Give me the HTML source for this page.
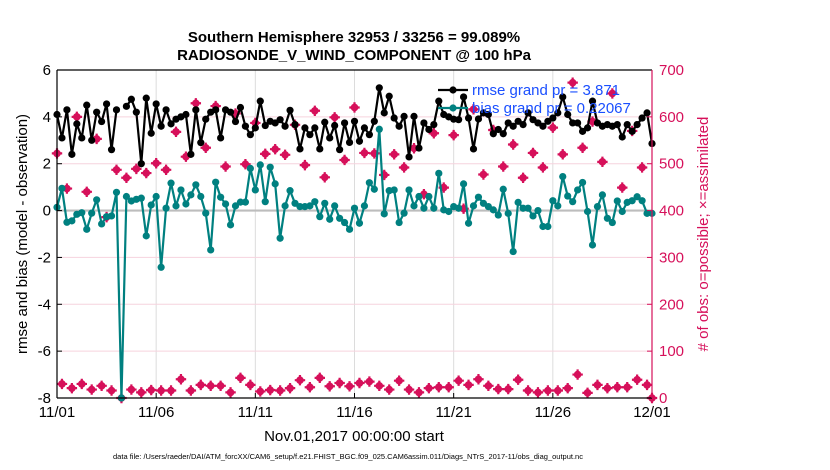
<!DOCTYPE html>
<html><head><meta charset="utf-8"><style>
body{margin:0;background:#fff;}
svg{display:block;font-family:"Liberation Sans",sans-serif;}
</style></head><body>
<svg id="chart" width="830" height="470" viewBox="0 0 830 470" xmlns="http://www.w3.org/2000/svg">
<rect width="830" height="470" fill="#fff"/>
<g id="grid"></g>
<g id="marks"></g>
<g id="axes"></g>
<text x="354" y="42" text-anchor="middle" font-size="15" font-weight="bold">Southern Hemisphere 32953 / 33256 = 99.089%</text>
<text x="354" y="60" text-anchor="middle" font-size="15" font-weight="bold">RADIOSONDE_V_WIND_COMPONENT @ 100 hPa</text>
<text transform="translate(27,234) rotate(-90)" text-anchor="middle" font-size="15">rmse and bias (model - observation)</text>
<text transform="translate(708,234) rotate(-90)" text-anchor="middle" font-size="15" fill="#d6105a"># of obs: o=possible; ×=assimilated</text>
<text x="354" y="441" text-anchor="middle" font-size="15">Nov.01,2017 00:00:00 start</text>
<text x="348" y="459" text-anchor="middle" font-size="7.5">data file: /Users/raeder/DAI/ATM_forcXX/CAM6_setup/f.e21.FHIST_BGC.f09_025.CAM6assim.011/Diags_NTrS_2017-11/obs_diag_output.nc</text>
</svg>
<script>
const rmse=[4.1,3.1,4.3,2.4,3.7,3.1,4.5,3.0,4.2,3.8,4.55,2.6,4.3,null,4.45,4.75,4.2,2.0,4.8,3.3,4.55,3.6,4.3,3.7,3.9,4.0,4.1,2.4,4.3,2.9,3.9,4.2,4.3,3.1,4.3,4.2,3.8,4.4,3.6,
3.24,3.53,4.67,3.63,3.81,3.74,3.88,3.6,4.28,3.67,2.63,3.53,3.24,3.53,2.63,3.77,3.1,3.63,2.6,3.74,2.91,3.81,2.96,3.53,3.24,3.81,5.24,4.17,4.88,3.95,3.6,4.02,2.29,4.02,2.67,3.74,3.46,3.67,4.67,4.1,4.0,3.9,
3.88,4.85,3.95,2.63,3.91,4.17,4.1,3.28,3.46,3.28,3.74,3.6,3.81,3.67,4.17,3.88,3.74,3.6,3.81,3.95,4.17,4.85,4.1,3.74,3.74,3.38,3.53,4.67,3.74,3.6,3.67,3.6,3.67,3.14,3.67,3.38,3.67,3.95,4.17,2.86];
const bias=[0.14,0.95,-0.5,-0.44,-0.16,-0.09,-0.8,-0.11,0.46,-0.57,-0.26,-0.23,0.78,-8,0.6,0.41,0.48,0.53,-1.08,0.24,0.6,-2.42,0.1,1.17,0.2,0.88,0.28,0.67,1.1,0.6,-0.11,-1.68,1.21,0.57,0.28,-0.61,0.2,0.36,0.36,
1.8,0.88,1.95,0.38,1.85,1.14,-1.18,0.2,0.85,0.31,0.17,0.17,0.2,0.38,-0.26,0.31,-0.37,0.2,-0.33,-0.51,-0.8,0.1,-0.54,0.2,1.19,0.91,3.47,-0.14,0.85,0.88,-0.51,-0.11,0.88,0.2,0.6,0.1,0.6,0.1,1.59,0.03,-0.04,0.17,
0.1,1.14,-0.54,0.2,0.57,0.31,0.17,0.03,-0.19,0.91,-0.12,-1.75,0.35,0.1,0.1,-0.23,0,-0.68,-0.68,0.42,0.2,1.45,0.62,0.38,0.88,1.2,-0.04,-1.47,0.17,0.67,-0.33,-0.51,0.41,-0.04,0.35,0.42,0.59,0.42,-0.12,-0.12];
const obs=[522,30,447,21,600,30,440,18,553,26,386,16,487,0,470,18,489,12,480,17,501,16,487,16,568,40,515,16,629,28,534,26,623,26,494,12,607,43,499,28,587,14,521,17,531,16,519,21,583,38,497,23,613,43,471,25,599,32,508,25,620,32,523,35,522,26,476,18,520,37,492,18,533,12,435,21,565,23,449,23,561,37,404,28,616,40,477,26,572,19,494,19,541,39,470,16,523,12,492,16,577,16,520,21,673,50,534,11,590,28,504,21,650,23,449,23,570,39,492,28,0];
const xTickLabels=["11/01","11/06","11/11","11/16","11/21","11/26","12/01"];
const xTickDays=[0,5,10,15,20,25,30];
const yTicks=[6,4,2,0,-2,-4,-6,-8];
const y2Ticks=[700,600,500,400,300,200,100,0];

const L=57,R=652,T=70,B=398,MAG="#d6105a",TEAL="#008080";
const NS="http://www.w3.org/2000/svg";
const xDay=d=>L+(R-L)*d/30;
const xIdx=i=>xDay(i*0.25);
const yL=v=>T+(6-v)*(B-T)/14;
const yR=v=>B-v*(B-T)/700;
function mk(tag,attrs,parent){const e=document.createElementNS(NS,tag);for(const k in attrs)e.setAttribute(k,attrs[k]);parent.appendChild(e);return e;}
const grid=document.getElementById('grid'),marks=document.getElementById('marks'),axes=document.getElementById('axes');

xTickDays.forEach((d,k)=>{
  const x=xDay(d);
  const g=mk('line',{x1:x,x2:x,y1:T,y2:B,stroke:'#dcdcdc','stroke-width':1},grid);
  
  
  mk('line',{x1:x,x2:x,y1:B,y2:B-5,stroke:'#000'},axes);
  const t=mk('text',{x:x,y:B+19,'text-anchor':'middle','font-size':15},axes);
  t.textContent=xTickLabels[k];
  
  
});
yTicks.forEach(v=>{
  const y=yL(v);
  if(v!==0){const g=mk('line',{x1:L,x2:R,y1:y,y2:y,stroke:'#f6d3de','stroke-width':1},grid);
  
  }
  mk('line',{x1:L,x2:L+5,y1:y,y2:y,stroke:'#000'},axes);
  const t=mk('text',{x:L-6,y:y+5,'text-anchor':'end','font-size':15},axes);
  t.textContent=v;
  
  
});
y2Ticks.forEach(v=>{
  const y=yR(v);
  mk('line',{x1:R-5,x2:R,y1:y,y2:y,stroke:MAG},axes);
  const t=mk('text',{x:R+7,y:y+5,'text-anchor':'start','font-size':15,fill:MAG},axes);
  t.textContent=v;
  
  
});
const zl=mk('line',{x1:L,x2:R,y1:yL(0),y2:yL(0),stroke:'#bdbdbd','stroke-width':2.2},grid);



obs.forEach((v,i)=>{
  const x=xIdx(i),y=yR(v);
  const g=mk('g',{},marks);
  
  
  mk('circle',{cx:x,cy:y,r:3.8,fill:MAG},g);
  mk('path',{d:`M${x-5.2},${y}H${x+5.2}M${x},${y-5.2}V${y+5.2}`,stroke:MAG,'stroke-width':2.2},g);
});

function series(data,color,name){
  let d='',pen=false;
  data.forEach((v,i)=>{if(v===null){pen=false;return;}d+=(pen?'L':'M')+xIdx(i).toFixed(2)+','+yL(v).toFixed(2);pen=true;});
  const p=mk('path',{d:d,fill:'none',stroke:color,'stroke-width':2.2,'stroke-linejoin':'round'},marks);
  
  
  data.forEach((v,i)=>{if(v===null)return;
    const c=mk('circle',{cx:xIdx(i),cy:yL(v),r:3.6,fill:color},marks);
    
    
  });
}
series(rmse,'#000','rmse');
series(bias,TEAL,'bias');

mk('line',{x1:L,x2:R,y1:T,y2:T,stroke:'#000','stroke-width':1.2},axes);
mk('line',{x1:L,x2:R,y1:B,y2:B,stroke:'#000','stroke-width':1.2},axes);
mk('line',{x1:L,x2:L,y1:T,y2:B,stroke:'#000','stroke-width':1.2},axes);
mk('line',{x1:R,x2:R,y1:T,y2:B,stroke:MAG,'stroke-width':1.2},axes);

const lg=mk('g',{},axes);


[['#000','rmse grand pr = 3.871',90],[TEAL,'bias grand pr = 0.22067',108]].forEach(([c,txt,y])=>{
  mk('line',{x1:438,x2:468,y1:y,y2:y,stroke:c,'stroke-width':2.2},lg);
  mk('circle',{cx:453,cy:y,r:3.6,fill:c},lg);
  const t=mk('text',{x:472,y:y+5,'font-size':15,fill:'#1a4fff'},lg);
  t.textContent=txt;
  
  
});
</script>
</body></html>
